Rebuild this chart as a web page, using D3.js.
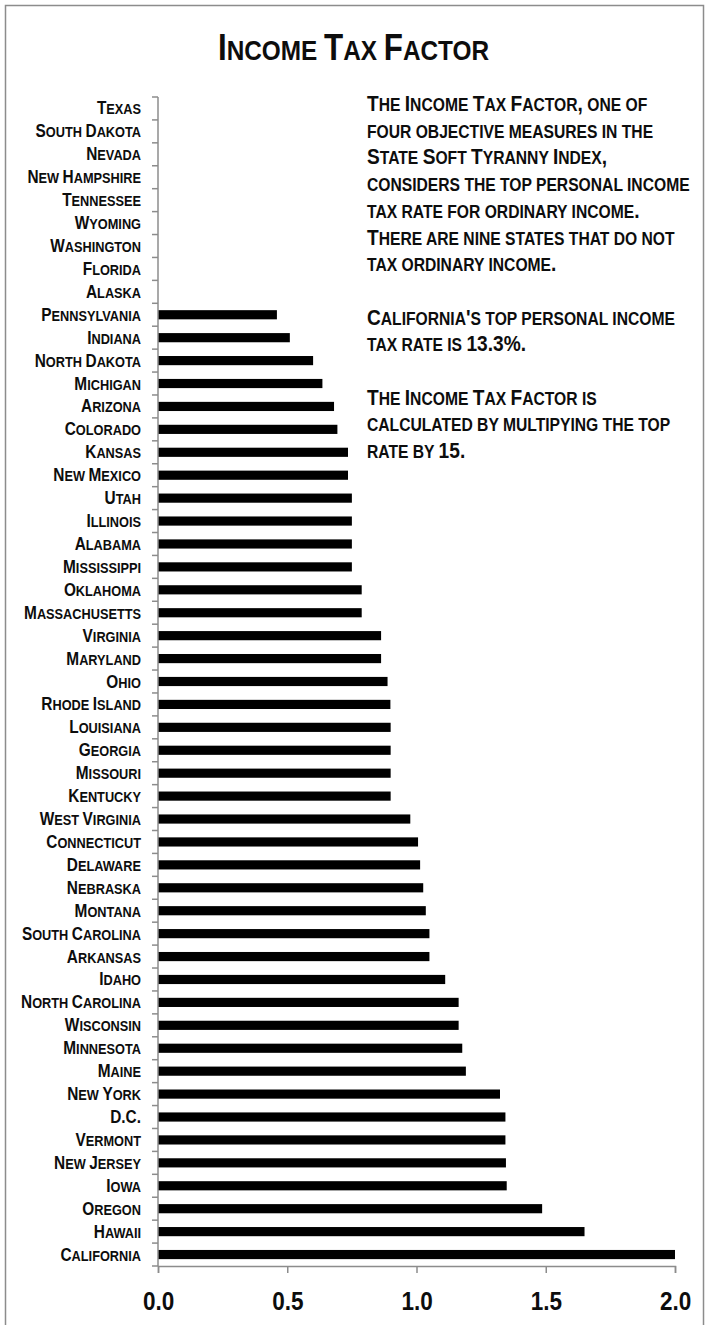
<!DOCTYPE html>
<html>
<head>
<meta charset="utf-8">
<script src="https://cdn.jsdelivr.net/npm/d3@7"></script>
<style>
  body { margin: 0; background: #fff; }
  svg text {
    font-family: "Liberation Sans", Arial, "DejaVu Sans", sans-serif;
    font-weight: bold;
    fill: #0d0d0d;
  }
</style>
</head>
<body>
<svg id="chart"></svg>
<script>
const width = 707;
const height = 1325;

// states, top of chart to bottom
const states = [
  "Texas", "South Dakota", "Nevada", "New Hampshire", "Tennessee", "Wyoming",
  "Washington", "Florida", "Alaska", "Pennsylvania", "Indiana", "North Dakota",
  "Michigan", "Arizona", "Colorado", "Kansas", "New Mexico", "Utah", "Illinois",
  "Alabama", "Mississippi", "Oklahoma", "Massachusetts", "Virginia", "Maryland",
  "Ohio", "Rhode Island", "Louisiana", "Georgia", "Missouri", "Kentucky",
  "West Virginia", "Connecticut", "Delaware", "Nebraska", "Montana",
  "South Carolina", "Arkansas", "Idaho", "North Carolina", "Wisconsin",
  "Minnesota", "Maine", "New York", "D.C.", "Vermont", "New Jersey", "Iowa",
  "Oregon", "Hawaii", "California"
];

// income tax factor (top rate x 15)
const factors = [
  0, 0, 0, 0, 0, 0,
  0, 0, 0, 0.46, 0.51, 0.60,
  0.636, 0.681, 0.694, 0.735, 0.735, 0.75, 0.75,
  0.75, 0.75, 0.788, 0.788, 0.863, 0.863,
  0.888, 0.899, 0.90, 0.90, 0.90, 0.90,
  0.976, 1.006, 1.014, 1.026, 1.036,
  1.05, 1.05, 1.111, 1.163, 1.163,
  1.177, 1.191, 1.323, 1.344, 1.344, 1.346, 1.349,
  1.486, 1.65, 2.0
];

const xTicks = [0, 0.5, 1.0, 1.5, 2.0];

const noteLines = [
  "The Income Tax Factor, one of",
  "four objective measures in the",
  "State Soft Tyranny Index,",
  "considers the top personal income",
  "tax rate for ordinary income.",
  "There are nine states that do not",
  "tax ordinary income.",
  "",
  "California's top personal income",
  "tax rate is 13.3%.",
  "",
  "The Income Tax Factor is",
  "calculated by multipying the top",
  "rate by 15."
];

const margin = { top: 97, bottom: 1266, left: 158, right: 675 };

// fake small caps: lowercase letters (and spaces) become smaller capitals
function smallCaps(textSel, str, big, small) {
  const runs = [];
  for (const ch of str) {
    const isSmall = ch === " " || ch !== ch.toUpperCase();
    const size = isSmall ? small : big;
    const last = runs[runs.length - 1];
    if (last && last.size === size) last.text += ch.toUpperCase();
    else runs.push({ size, text: ch.toUpperCase() });
  }
  runs.forEach(r => {
    textSel.append("tspan").style("font-size", r.size + "px").text(r.text);
  });
}

const svg = d3.select("#chart")
  .attr("width", width)
  .attr("height", height);

// outer frame
svg.append("rect")
  .attr("x", 5.5)
  .attr("y", 5.5)
  .attr("width", 698)
  .attr("height", height + 20)
  .attr("fill", "none")
  .attr("stroke", "#8c8c8c")
  .attr("stroke-width", 1.5);

// squeeze Liberation Sans toward Arial Narrow
const title = svg.append("text")
  .attr("transform", `translate(${width / 2},60) scale(0.87,1)`)
  .attr("text-anchor", "middle");
smallCaps(title, "Income Tax Factor", 36, 28);

const x = d3.scaleLinear()
  .domain([0, 2])
  .range([margin.left, margin.right]);

const y = d3.scaleBand()
  .domain(states)
  .range([margin.top, margin.bottom])
  .paddingInner(0.6)
  .paddingOuter(0.3);

const step = y.step();

// bars
svg.append("g")
  .selectAll("rect")
  .data(states.map((s, i) => ({ state: s, value: factors[i] })))
  .join("rect")
  .attr("x", x(0))
  .attr("y", d => y(d.state))
  .attr("width", d => x(d.value) - x(0))
  .attr("height", y.bandwidth())
  .attr("fill", "#000");

// y axis: line + ticks between categories
const yAxis = svg.append("g");
yAxis.append("line")
  .attr("x1", x(0)).attr("x2", x(0))
  .attr("y1", margin.top).attr("y2", margin.bottom)
  .attr("stroke", "#8c8c8c")
  .attr("stroke-width", 1.5);

yAxis.selectAll(".ytick")
  .data(d3.range(states.length + 1))
  .join("line")
  .attr("x1", x(0) - 6).attr("x2", x(0))
  .attr("y1", i => margin.top + i * step)
  .attr("y2", i => margin.top + i * step)
  .attr("stroke", "#8c8c8c")
  .attr("stroke-width", 1.5);

yAxis.selectAll(".ylabel")
  .data(states)
  .join("text")
  .attr("transform", d => `translate(141,${y(d) + y.bandwidth() / 2 + 6}) scale(0.88,1)`)
  .attr("text-anchor", "end")
  .each(function (d) { smallCaps(d3.select(this), d, 17.5, 14.5); });

// x axis
const xAxis = svg.append("g")
  .attr("transform", `translate(0,${margin.bottom})`)
  .call(d3.axisBottom(x).tickValues(xTicks).tickSize(7).tickFormat(d3.format(".1f")));

xAxis.select(".domain").attr("stroke", "#8c8c8c").attr("stroke-width", 1.5);
xAxis.selectAll(".tick line").attr("stroke", "#8c8c8c").attr("stroke-width", 1.5);
xAxis.selectAll(".tick text")
  .attr("y", 0)
  .attr("dy", 0)
  .attr("transform", "translate(0,44) scale(0.9,1)")
  .style("font-size", "25px")
  .style("font-family", "'Liberation Sans', Arial, sans-serif")
  .style("font-weight", "bold")
  .attr("fill", "#0d0d0d");

// note text block
svg.append("g")
  .selectAll("text")
  .data(noteLines)
  .join("text")
  .attr("transform", (d, i) => `translate(367,${111 + i * 26.7}) scale(0.87,1)`)
  .each(function (d) { smallCaps(d3.select(this), d, 22, 18); });
</script>
</body>
</html>
